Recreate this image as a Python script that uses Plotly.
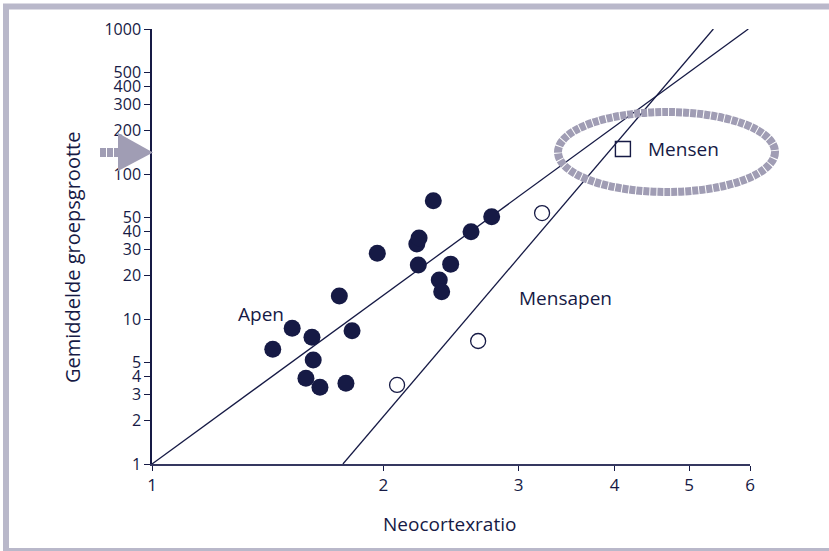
import numpy as np
import plotly.graph_objects as go

# ---- data ----
apen_x = [1.436, 1.522, 1.615, 1.621, 1.586, 1.654, 1.788, 1.821, 1.753, 1.964,
          2.211, 2.226, 2.221, 2.323, 2.447, 2.365, 2.382, 2.601, 2.767]
apen_y = [6.18, 8.63, 7.48, 5.21, 3.90, 3.38, 3.60, 8.31, 14.4, 28.4,
          32.9, 36.2, 23.6, 65.4, 23.9, 18.6, 15.4, 40.0, 50.8]
mensapen_x = [2.084, 2.657, 3.218]
mensapen_y = [3.51, 7.05, 53.8]
mensen_x = [4.10]
mensen_y = [148.7]
apen_line_x = [1.0, 5.97]
apen_line_y = [1.0, 1000.0]
mensapen_line_x = [1.772, 5.376]
mensapen_line_y = [1.0, 1000.0]
x_ticks = [1, 2, 3, 4, 5, 6]
y_ticks = [1, 2, 3, 4, 5, 10, 20, 30, 40, 50, 100, 200, 300, 400, 500, 1000]

NAVY = "#161a45"
GRAY = "#a09db4"
FONT = "Open Sans"

W, H = 829, 551
L, R, T, B = 152, 79, 29, 87
PW, PH = W - L - R, H - T - B


def px(x):
    return (x - L) / PW


def py(y):
    return (H - B - y) / PH


fig = go.Figure()
fig.add_trace(go.Scatter(x=apen_line_x, y=apen_line_y, mode="lines",
                         line=dict(color=NAVY, width=1.3), showlegend=False))
fig.add_trace(go.Scatter(x=mensapen_line_x, y=mensapen_line_y, mode="lines",
                         line=dict(color=NAVY, width=1.3), showlegend=False))
fig.add_trace(go.Scatter(x=apen_x, y=apen_y, mode="markers",
                         marker=dict(size=17, color=NAVY, line=dict(width=0)),
                         showlegend=False))
fig.add_trace(go.Scatter(x=mensapen_x, y=mensapen_y, mode="markers",
                         marker=dict(size=15, color="white", line=dict(color=NAVY, width=1.3)),
                         showlegend=False))
fig.add_trace(go.Scatter(x=mensen_x, y=mensen_y, mode="markers",
                         marker=dict(size=15, symbol="square-open", color=NAVY,
                                     line=dict(color=NAVY, width=1.4)),
                         showlegend=False))

shapes = []
# outer frame
shapes.append(dict(type="rect", xref="paper", yref="paper",
                   x0=px(6), x1=px(840), y0=py(551), y1=py(6.5),
                   line=dict(color="#b9b8ca", width=6), fillcolor="rgba(0,0,0,0)", layer="above"))
# ellipse around Mensen
shapes.append(dict(type="circle", xref="paper", yref="paper",
                   x0=px(558), x1=px(775), y0=py(192), y1=py(112),
                   line=dict(color=GRAY, width=8, dash="6px,1px"), layer="above"))
# arrow tail
shapes.append(dict(type="line", xref="paper", yref="paper",
                   x0=px(100), x1=px(120), y0=py(152.5), y1=py(152.5),
                   line=dict(color=GRAY, width=9, dash="6px,1px")))
# arrow head
shapes.append(dict(type="path", xref="paper", yref="paper",
                   path=f"M {px(118)},{py(133)} L {px(153)},{py(152.5)} L {px(118)},{py(171)} Z",
                   fillcolor=GRAY, line=dict(width=0)))


def ann(text, x, y, size=19, **kw):
    d = dict(text=text, xref="paper", yref="paper", x=px(x), y=py(y),
             xanchor="center", yanchor="middle", showarrow=False,
             font=dict(family=FONT, size=size, color=NAVY))
    d.update(kw)
    return d


annotations = [
    ann("Apen", 261, 314),
    ann("Mensapen", 565, 298),
    ann("Mensen", 683, 149),
    ann("Gemiddelde groepsgrootte", 72, 258, size=20, textangle=-90),
    ann("Neocortexratio", 449, 524),
]

fig.update_layout(
    width=W, height=H,
    margin=dict(l=L, r=R, t=T, b=B, pad=0),
    paper_bgcolor="white", plot_bgcolor="white",
    shapes=shapes, annotations=annotations,
    font=dict(family=FONT, color=NAVY),
)
fig.update_xaxes(type="log", range=[0, np.log10(6)], tickvals=x_ticks,
                 ticktext=[str(v) for v in x_ticks],
                 showgrid=False, zeroline=False, showline=True, linecolor="#353860", linewidth=2,
                 ticks="outside", ticklen=5, tickcolor=NAVY, tickwidth=1.3,
                 tickfont=dict(family=FONT, size=17, color=NAVY))
fig.update_yaxes(type="log", range=[0, 3], tickvals=y_ticks,
                 ticktext=[str(v) for v in y_ticks],
                 showgrid=False, zeroline=False, showline=True, linecolor=NAVY, linewidth=1.5,
                 ticks="outside", ticklen=6, tickcolor=NAVY, tickwidth=1.3,
                 tickfont=dict(family=FONT, size=16, color=NAVY))

fig.write_html("out.html", config={"displayModeBar": False},
               post_script="document.body.style.margin='0px';document.body.style.overflow='hidden';")
